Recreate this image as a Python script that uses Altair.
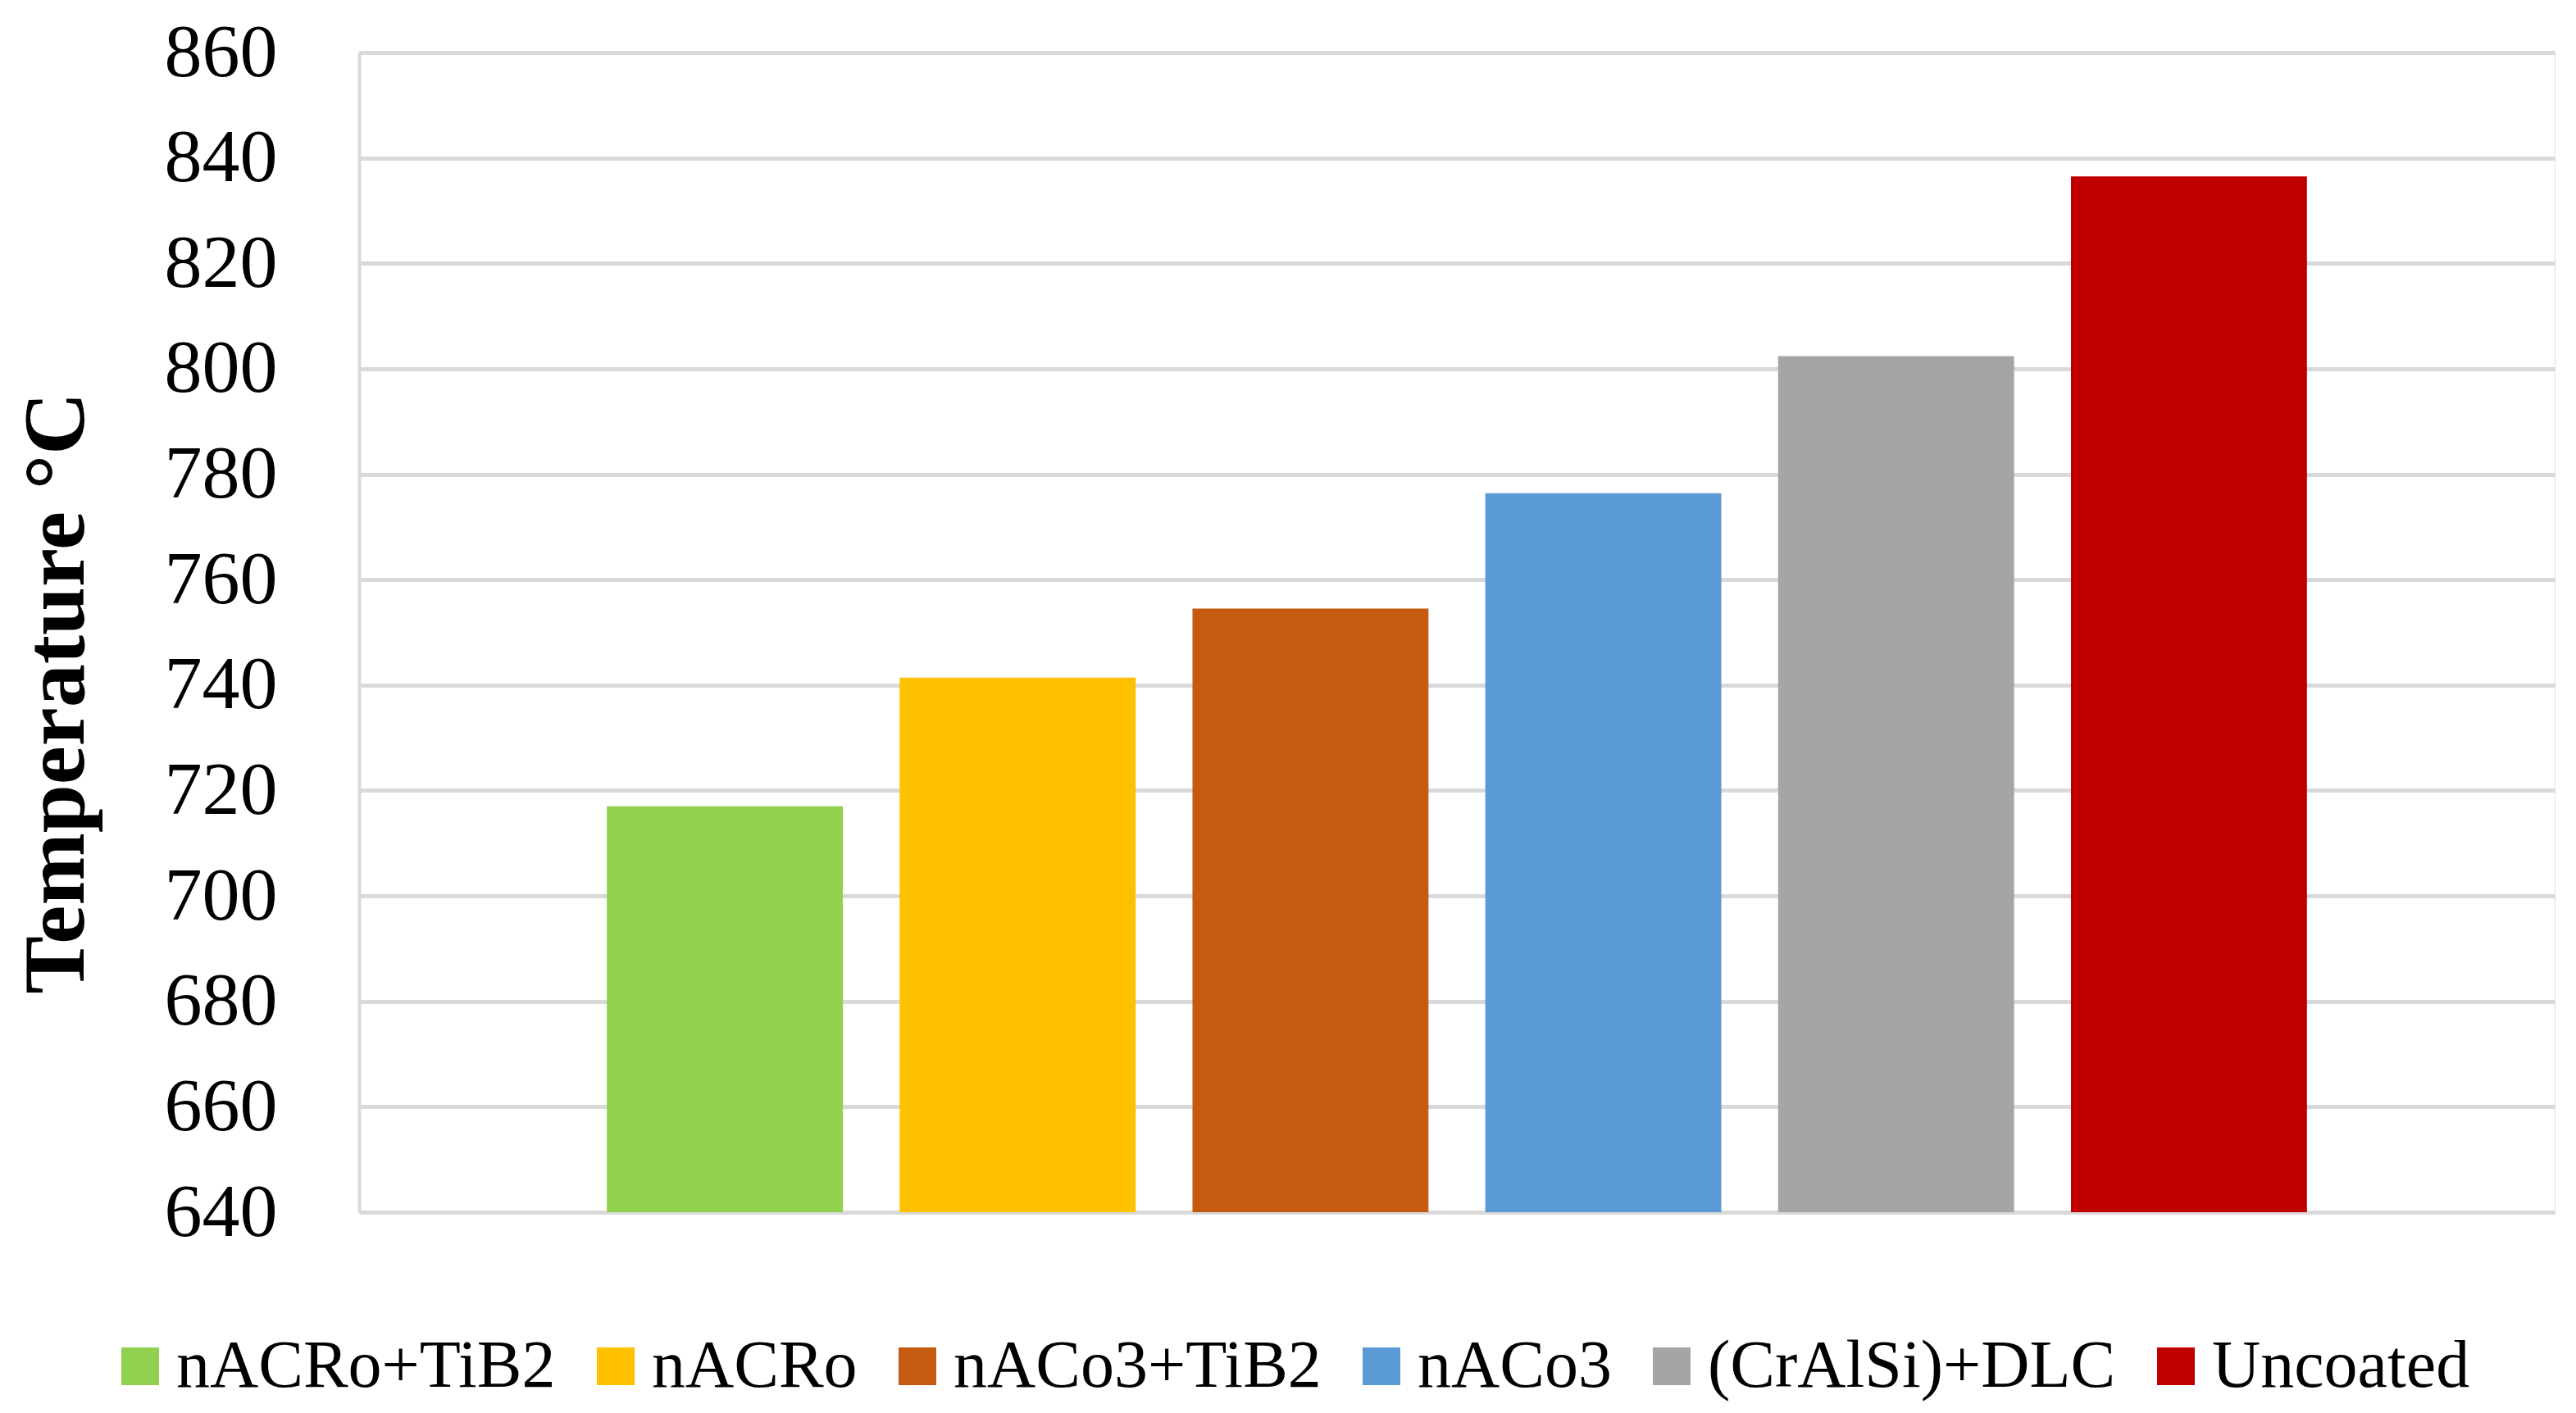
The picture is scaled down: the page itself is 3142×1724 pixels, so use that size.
import altair as alt
import pandas as pd

series = ["nACRo+TiB2", "nACRo", "nACo3+TiB2", "nACo3", "(CrAlSi)+DLC", "Uncoated"]
values = [717.0, 741.4, 754.5, 776.4, 802.4, 836.5]
colors = ["#92d050", "#ffc000", "#c55a11", "#5b9bd5", "#a5a5a5", "#c00000"]
y_ticks = [640, 660, 680, 700, 720, 740, 760, 780, 800, 820, 840, 860]

df = pd.DataFrame({"series": series, "value": values})

FONT = "Liberation Serif"

chart = alt.Chart(df).mark_bar().encode(
    x=alt.X("series:N", sort=series, axis=None,
            scale=alt.Scale(paddingInner=0.194, paddingOuter=0.846)),
    y=alt.Y("value:Q",
            scale=alt.Scale(domain=[640, 860], nice=False, zero=False),
            axis=alt.Axis(values=y_ticks, title="Temperature °C",
                          labelFont=FONT, labelFontSize=92, labelColor="#000000",
                          labelPadding=100, ticks=False,
                          domainColor="#d9d9d9", domainWidth=4,
                          gridColor="#d9d9d9", gridWidth=5,
                          titleFont=FONT, titleFontSize=106, titleFontWeight="bold",
                          titleColor="#000000", titleAngle=270,
                          titleBaseline="alphabetic", titleAlign="center",
                          titleX=-337, titleY=781)),
    y2=alt.datum(640),
    color=alt.Color("series:N", sort=series,
                    scale=alt.Scale(domain=series, range=colors),
                    legend=alt.Legend(title=None, orient="none", direction="horizontal",
                                      columns=6, legendX=-308, legendY=1562,
                                      symbolType="square", symbolSize=2116,
                                      symbolStrokeWidth=0, symbolOpacity=1,
                                      labelFont=FONT, labelFontSize=82,
                                      labelColor="#000000", labelOffset=3,
                                      columnPadding=32, labelLimit=1000)),
).properties(
    width=2678, height=1415,
    autosize=alt.AutoSizeParams(type="none"),
    padding={"left": 430, "top": 56, "right": 18, "bottom": 237},
).configure_view(strokeWidth=0).configure(background="white")

chart.save("out.html", embed_options={"renderer": "svg", "actions": False})
